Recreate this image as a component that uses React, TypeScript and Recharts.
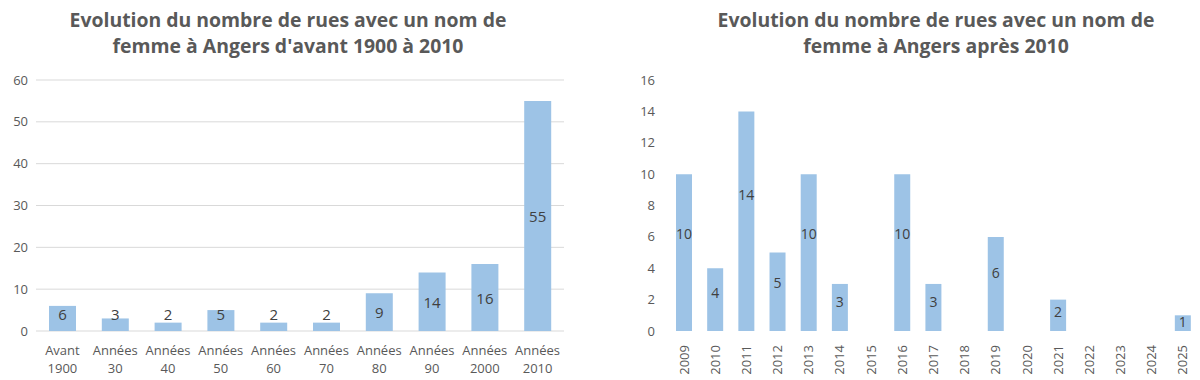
import React from 'react';
import { BarChart, Bar, XAxis, YAxis, CartesianGrid, LabelList } from 'recharts';

const leftCategories = [
  'Avant 1900', 'Années 30', 'Années 40', 'Années 50', 'Années 60',
  'Années 70', 'Années 80', 'Années 90', 'Années 2000', 'Années 2010',
];
const leftValues = [6, 3, 2, 5, 2, 2, 9, 14, 16, 55];
const leftTicks = [0, 10, 20, 30, 40, 50, 60];

const rightYears = [
  '2009', '2010', '2011', '2012', '2013', '2014', '2015', '2016', '2017',
  '2018', '2019', '2020', '2021', '2022', '2023', '2024', '2025',
];
const rightValues = [10, 4, 14, 5, 10, 3, 0, 10, 3, 0, 6, 0, 2, 0, 0, 0, 1];
const rightTicks = [0, 2, 4, 6, 8, 10, 12, 14, 16];

const leftTitle = ['Evolution du nombre de rues avec un nom de', "femme à Angers d'avant 1900 à 2010"];
const rightTitle = ['Evolution du nombre de rues avec un nom de', 'femme à Angers après 2010'];

const FONT = '"Open Sans", Lato, sans-serif';
const BAR = '#9DC3E6';
const TEXT = '#595959';

const leftData = leftCategories.map((name, i) => ({ name, value: leftValues[i] }));
const rightData = rightYears.map((name, i) => ({ name, value: rightValues[i] }));

const TwoLineTick = ({ x, y, payload }: any) => {
  const parts = String(payload.value).split(' ');
  return (
    <text x={x} y={y} textAnchor="middle" fill={TEXT} fontSize={13} fontFamily={FONT}>
      <tspan x={x} dy={16}>{parts[0]}</tspan>
      <tspan x={x} dy={18}>{parts[1]}</tspan>
    </text>
  );
};

const YearTick = ({ x, y, payload }: any) => {
  const ty = y + 6;
  return (
    <text
      x={x}
      y={ty}
      transform={`rotate(-90 ${x} ${ty})`}
      textAnchor="end"
      dominantBaseline="central"
      fill={TEXT}
      fontSize={13}
      fontFamily={FONT}
    >
      {payload.value}
    </text>
  );
};

// labels sit in the middle of the bar, but never lower than just above the base
const LeftLabel = ({ x, y, width, height, value }: any) => {
  if (!value) return null;
  const bottom = y + height;
  const cy = Math.min(y + height / 2, bottom - 17);
  return (
    <text x={x + width / 2} y={cy} textAnchor="middle" dominantBaseline="central" fill="#404040" fontSize={15} fontFamily={FONT}>
      {value}
    </text>
  );
};

const RightLabel = ({ x, y, width, height, value }: any) => {
  if (!value) return null;
  const cy = y + height - height * 0.62;
  return (
    <text x={x + width / 2} y={cy} textAnchor="middle" dominantBaseline="central" fill="#404040" fontSize={14} fontFamily={FONT}>
      {value}
    </text>
  );
};

const Title = ({ lines, left, width }: { lines: string[]; left: number; width: number }) => (
  <div
    style={{
      position: 'absolute',
      left,
      top: 7,
      width,
      textAlign: 'center',
      fontFamily: FONT,
      fontWeight: 700,
      fontSize: 19.4,
      lineHeight: '26px',
      color: TEXT,
    }}
  >
    {lines.map(l => (
      <div key={l}>{l}</div>
    ))}
  </div>
);

export default function App() {
  return (
    <div style={{ position: 'absolute', left: 0, top: 0, width: 1200, height: 380, background: '#fff', overflow: 'hidden' }}>
      <div style={{ position: 'absolute', left: 0, top: 0 }}>
        <BarChart width={580} height={380} data={leftData} margin={{ top: 80, right: 16, left: 6, bottom: 0 }}>
          <CartesianGrid vertical={false} stroke="#D9D9D9" />
          <XAxis dataKey="name" interval={0} axisLine={false} tickLine={false} height={49} tick={<TwoLineTick />} />
          <YAxis
            domain={[0, 60]}
            ticks={leftTicks}
            width={30}
            axisLine={false}
            tickLine={false}
            tick={{ fill: TEXT, fontSize: 13, fontFamily: FONT }}
          />
          <Bar dataKey="value" fill={BAR} barSize={27} isAnimationActive={false}>
            <LabelList dataKey="value" content={<LeftLabel />} />
          </Bar>
        </BarChart>
      </div>
      <div style={{ position: 'absolute', left: 600, top: 0 }}>
        <BarChart width={600} height={380} data={rightData} margin={{ top: 80, right: 2, left: 8, bottom: 0 }}>
          <XAxis dataKey="name" interval={0} axisLine={false} tickLine={false} height={49} tick={<YearTick />} />
          <YAxis
            domain={[0, 16]}
            ticks={rightTicks}
            width={60}
            axisLine={false}
            tickLine={false}
            tick={{ fill: TEXT, fontSize: 13, fontFamily: FONT, dx: -5 }}
          />
          <Bar dataKey="value" fill={BAR} barSize={16} isAnimationActive={false}>
            <LabelList dataKey="value" content={<RightLabel />} />
          </Bar>
        </BarChart>
      </div>
      <Title lines={leftTitle} left={0} width={576} />
      <Title lines={rightTitle} left={640} width={592} />
    </div>
  );
}
